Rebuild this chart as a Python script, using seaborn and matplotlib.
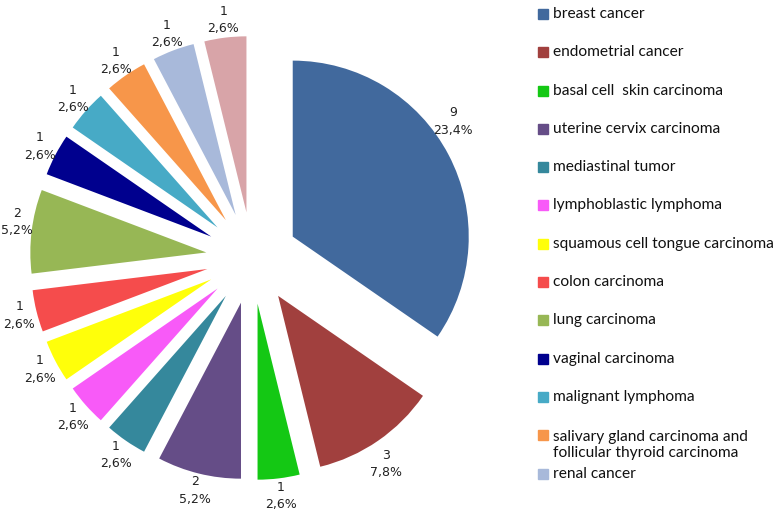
import numpy as np
import seaborn as sns
import matplotlib
matplotlib.use("Agg")
import matplotlib.pyplot as plt
from matplotlib.patches import Rectangle

# data (counts; the last pink slice has no legend entry visible)
categories = ["breast cancer", "endometrial cancer", "basal cell  skin carcinoma",
              "uterine cervix carcinoma", "mediastinal tumor", "lymphoblastic lymphoma",
              "squamous cell tongue carcinoma", "colon carcinoma", "lung carcinoma",
              "vaginal carcinoma", "malignant lymphoma",
              "salivary gland carcinoma and\nfollicular thyroid carcinoma", "renal cancer", ""]
counts = [9, 3, 1, 2, 1, 1, 1, 1, 2, 1, 1, 1, 1, 1]
percents = ["23,4%", "7,8%", "2,6%", "5,2%", "2,6%", "2,6%", "2,6%", "2,6%",
            "5,2%", "2,6%", "2,6%", "2,6%", "2,6%", "2,6%"]
colors = ["#41699D", "#A1403E", "#14C814", "#654D87", "#35889C", "#F85AF8",
          "#FFFF0A", "#F54C4C", "#97B755", "#00008E", "#47AAC6", "#F7964A",
          "#A8B9DA", "#D8A4A8"]

sns.set_style("white")
palette = sns.color_palette(colors)

fig = plt.figure(figsize=(7.78, 5.2), dpi=100)
ax = fig.add_axes([0, 0, 1, 1])

R = 176
wedges, _ = ax.pie(counts, colors=palette, startangle=90, counterclock=False,
                   radius=R, center=(252, 262), explode=[46] * len(counts),
                   wedgeprops=dict(linewidth=0))
ax.set_xlim(0, 778)
ax.set_ylim(0, 520)
ax.set_aspect("equal")
ax.axis("off")

# value labels outside each wedge (a few nudged like the original's "best fit")
nudge = {0: (8, 1.12), 1: (-2, 1.135), 8: (-2.3, 1.088)}
for i, w in enumerate(wedges):
    turn, dist = nudge.get(i, (0, 1.1))
    mid = np.deg2rad((w.theta1 + w.theta2) / 2 + turn)
    cx, cy = w.center
    ax.text(cx + dist * R * np.cos(mid), cy + dist * R * np.sin(mid),
            f"{counts[i]}\n{percents[i]}", ha="center", va="center",
            fontsize=9, linespacing=1.45, color="#222222", family="DejaVu Sans")

# legend (13 visible entries)
for i in range(13):
    y = 1 - (14 + i * 38.3) / 520
    fig.patches.append(Rectangle((538 / 778, y - 5 / 520), 10 / 778, 10 / 520,
                                 transform=fig.transFigure, color=palette[i]))
    ty = y - 9.5 / 520 if "\n" in categories[i] else y
    fig.text(553 / 778, ty, categories[i], ha="left", va="center",
             fontsize=11.2, family="Lato", color="#111111", linespacing=1.2)

fig.savefig("out.png", dpi=100)
